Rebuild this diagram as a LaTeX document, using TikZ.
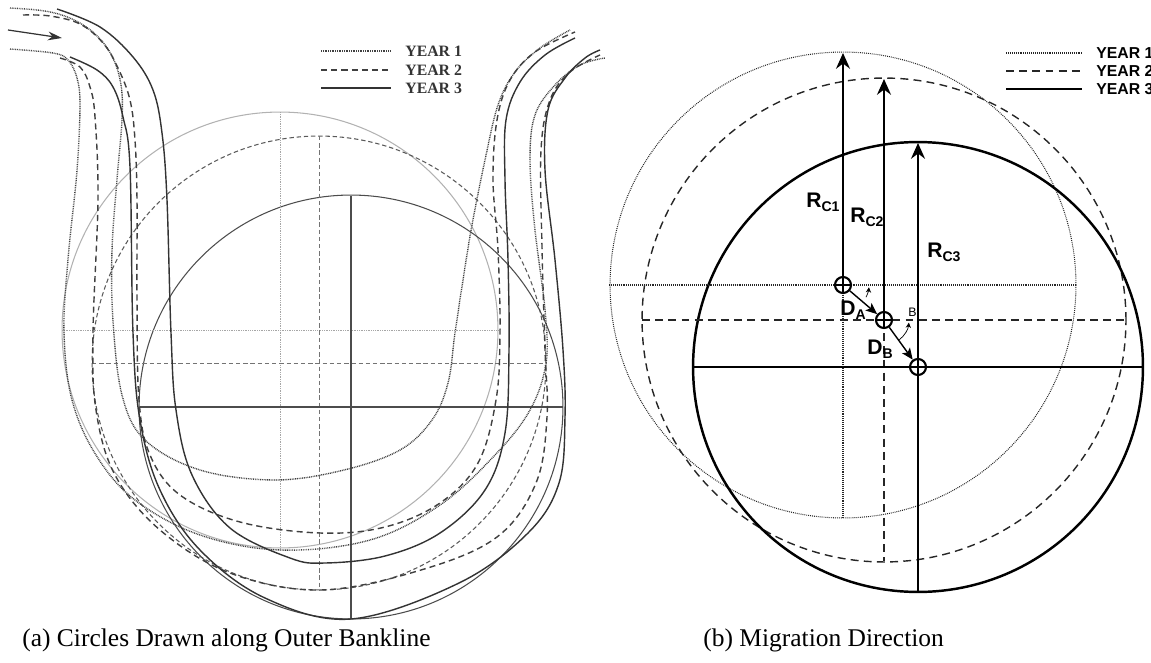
\documentclass[tikz,border=0pt]{standalone}
\usepackage{fontspec}
\setmainfont{Liberation Serif}
\setsansfont{Liberation Sans}
\usetikzlibrary{arrows.meta, positioning, calc}
\newcommand{\sublab}[2]{#1\raisebox{-2.8pt}{\fontsize{8}{8}\selectfont #2}}
\tikzset{
    % Banklines, one style per year
    yrone/.style   = {draw=black!75, line width=0.8pt, dash pattern=on 0.5pt off 0.5pt},
    yrtwo/.style   = {draw=black!75, line width=0.8pt, dash pattern=on 3.5pt off 2.3pt},
    yrthree/.style = {draw=black!80, line width=0.8pt},
    % Circles and cross hairs of (a)
    circone/.style   = {draw=black!30, line width=0.6pt},
    circtwo/.style   = {draw=black!65, line width=0.6pt, dash pattern=on 2.5pt off 1.6pt},
    circthree/.style = {draw=black!70, line width=0.6pt},
    hairone/.style   = {draw=black!35, line width=0.5pt, dash pattern=on 0.5pt off 0.5pt},
    hairtwo/.style   = {draw=black!55, line width=0.5pt, dash pattern=on 2.5pt off 1.6pt},
    hairthree/.style = {draw=black!70, line width=0.6pt},
    % Circles and lines of (b)
    bone/.style   = {draw=black!85, line width=0.6pt, dash pattern=on 0.5pt off 0.6pt},
    btwo/.style   = {draw=black!85, line width=0.8pt, dash pattern=on 4.5pt off 3pt},
    bthree/.style = {draw=black, line width=1.4pt},
    bhair/.style  = {line width=0.9pt},
    % Centres, arrows and texts
    ctr/.style = {circle, draw, fill=white, line width=1.2pt, minimum size=0.32cm, inner sep=0pt,
        path picture={\draw[line width=1pt] (path picture bounding box.north) -- (path picture bounding box.south)
            (path picture bounding box.west) -- (path picture bounding box.east);}},
    radarr/.style  = {line width=0.9pt, -{Stealth[length=9pt, width=8pt, inset=3pt]}},
    darr/.style    = {line width=0.8pt, -{Stealth[length=6.5pt, width=5.5pt, inset=1.5pt]}},
    angarr/.style  = {line width=0.4pt, -{Stealth[length=3pt, width=3pt]}},
    flowarr/.style = {draw=black!80, line width=0.7pt, -{Stealth[length=8pt, width=5pt, inset=2.5pt]}},
    legafont/.style = {font=\fontsize{9}{11}\selectfont\bfseries, text=black!80, anchor=west, inner sep=0pt},
    legbfont/.style = {font=\sffamily\bfseries\fontsize{9}{11}\selectfont, anchor=west, inner sep=0pt},
    symlab/.style   = {font=\sffamily\bfseries\fontsize{12}{14}\selectfont, anchor=base west, inner sep=0pt},
    capt/.style     = {font=\fontsize{14.5}{17}\selectfont, anchor=base west, inner sep=0pt}
}

\begin{document}
\begin{tikzpicture}[x=0.02cm, y=-0.02cm]
    \useasboundingbox (0,0) rectangle (1151,662);

    % ---------- (a) Circles along the outer bankline ----------

    % Circles with their cross hairs
    \draw[circone] (280,330) circle[radius=4.36cm];
    \draw[circtwo] (319,363) circle[radius=4.54cm];
    \draw[circthree] (351,407) circle[radius=4.24cm];
    \draw[hairone] (62,330) -- (498,330) (280,112) -- (280,548);
    \draw[hairtwo] (92,363) -- (546,363) (319,136) -- (319,590);
    \draw[hairthree] (140,407) -- (563,407) (351,196) -- (351,619);

    % Inner banklines
    \draw[yrone] plot[smooth, tension=0.6] coordinates {(10,8) (45,11) (72,19) (95,34) (112,56) (121,85) (122,120) (117,180) (112,250) (113,320) (122,395) (145,440) (200,470) (275,480) (344,470) (400,450) (432,420) (448,383) (455,333) (463,280) (472,225) (485,160) (498,105) (515,72) (540,48) (570,30)};
    \draw[yrtwo] plot[smooth, tension=0.6] coordinates {(23,15) (50,16) (80,24) (103,43) (118,68) (130,100) (135,140) (137,200) (137,300) (139,400) (150,455) (180,495) (240,522) (320,533) (385,527) (440,503) (478,463) (496,400) (500,333) (498,250) (493,180) (497,120) (510,80) (535,52) (575,32)};
    \draw[yrthree] plot[smooth, tension=0.6] coordinates {(57,9) (100,27) (133,57) (153,90) (162,133) (167,200) (171,333) (176,410) (192,475) (230,528) (290,558) (325,563) (385,556) (440,533) (485,490) (505,433) (509,350) (508,260) (505,180) (506,120) (520,82) (545,55) (575,38)};

    % Outer banklines
    \draw[yrone] plot[smooth, tension=0.6] coordinates {(10,49) (53,53) (68,60) (77,78) (80,105) (77,170) (68,260) (64,333) (72,400) (96,455) (135,500) (200,535) (281,550) (370,540) (440,505) (495,455) (530,410) (546,363) (545,310) (535,230) (530,160) (535,115) (555,85) (580,65) (605,58)};
    \draw[yrtwo] plot[smooth, tension=0.6] coordinates {(60,58) (80,67) (90,87) (95,117) (98,200) (93,333) (96,410) (115,475) (160,530) (230,573) (320,590) (421,570) (497,537) (536,483) (547,417) (545,350) (542,247) (541,150) (550,100) (570,72) (600,55)};
    \draw[yrthree] plot[smooth, tension=0.6] coordinates {(70,57) (97,70) (113,87) (123,117) (130,167) (133,333) (140,420) (160,490) (200,550) (265,598) (351,619) (459,583) (528,533) (559,483) (565,417) (563,350) (555,260) (545,170) (548,110) (565,78) (585,58) (600,50)};

    % Flow direction
    \coordinate (flow_start) at (8,30);
    \coordinate (flow_end) at (62,38);
    \draw[flowarr] (flow_start) -- (flow_end);

    % Legend
    \node[legafont] (leg_a1) at (405,51) {YEAR 1};
    \node[legafont] (leg_a2) at (405,70) {YEAR 2};
    \node[legafont] (leg_a3) at (405,88) {YEAR 3};
    \draw[yrone] (321,51) -- (391,51);
    \draw[yrtwo] (321,70) -- (391,70);
    \draw[yrthree] (321,88) -- (391,88);

    % ---------- (b) Migration direction ----------
    \coordinate (c_one) at (843,285);
    \coordinate (c_two) at (884,320);
    \coordinate (c_three) at (918,367);
    \coordinate (tip_one) at (843,53);
    \coordinate (tip_two) at (884,79);
    \coordinate (tip_three) at (918,143);

    % Circles
    \draw[bone] (c_one) circle[radius=4.66cm];
    \draw[btwo] (c_two) circle[radius=4.84cm];
    \draw[bthree] (c_three) circle[radius=4.50cm];

    % Cross hairs
    \draw[bone, bhair] (609,285) -- (1076,285) (c_one) -- (843,517);
    \draw[btwo, bhair] (642,320) -- (1126,320) (c_two) -- (884,561);
    \draw[bhair] (694,367) -- (1143,367) (c_three) -- (918,591);

    % Radii
    \draw[radarr] (c_one) -- (tip_one);
    \draw[radarr] (c_two) -- (tip_two);
    \draw[radarr] (c_three) -- (tip_three);
    \node[symlab] (lab_rc1) at (806,207) {\sublab{R}{C1}};
    \node[symlab] (lab_rc2) at (850,222) {\sublab{R}{C2}};
    \node[symlab] (lab_rc3) at (927,257) {\sublab{R}{C3}};

    % Centres and migration steps
    \node[ctr] (ctr_one) at (c_one) {};
    \node[ctr] (ctr_two) at (c_two) {};
    \node[ctr] (ctr_three) at (c_three) {};
    \draw[darr] (ctr_one) -- (ctr_two);
    \draw[darr] (ctr_two) -- (ctr_three);
    \node[symlab] (lab_da) at (840,315) {\sublab{D}{A}};
    \node[symlab] (lab_db) at (867,354) {\sublab{D}{B}};

    % Angles
    \draw[angarr] ($(c_one)+(28:26)$) arc[start angle=28, end angle=5, radius=26];
    \draw[angarr] ($(c_two)+(52:25)$) arc[start angle=52, end angle=6, radius=25];
    \node[font=\sffamily\fontsize{7}{8}\selectfont, anchor=base west, inner sep=0pt] (lab_ang) at (908,316) {B};

    % Legend
    \node[legbfont] (leg_b1) at (1096,53) {YEAR 1};
    \node[legbfont] (leg_b2) at (1096,71) {YEAR 2};
    \node[legbfont] (leg_b3) at (1096,89) {YEAR 3};
    \draw[bone, line width=1.2pt] (1006,53) -- (1082,53);
    \draw[btwo] (1006,71) -- (1082,71);
    \draw[bthree] (1006,89) -- (1082,89);

    % Captions
    \node[capt] (cap_a) at (22,646) {(a) Circles Drawn along Outer Bankline};
    \node[capt] (cap_b) at (703,646) {(b) Migration Direction};
\end{tikzpicture}
\end{document}
